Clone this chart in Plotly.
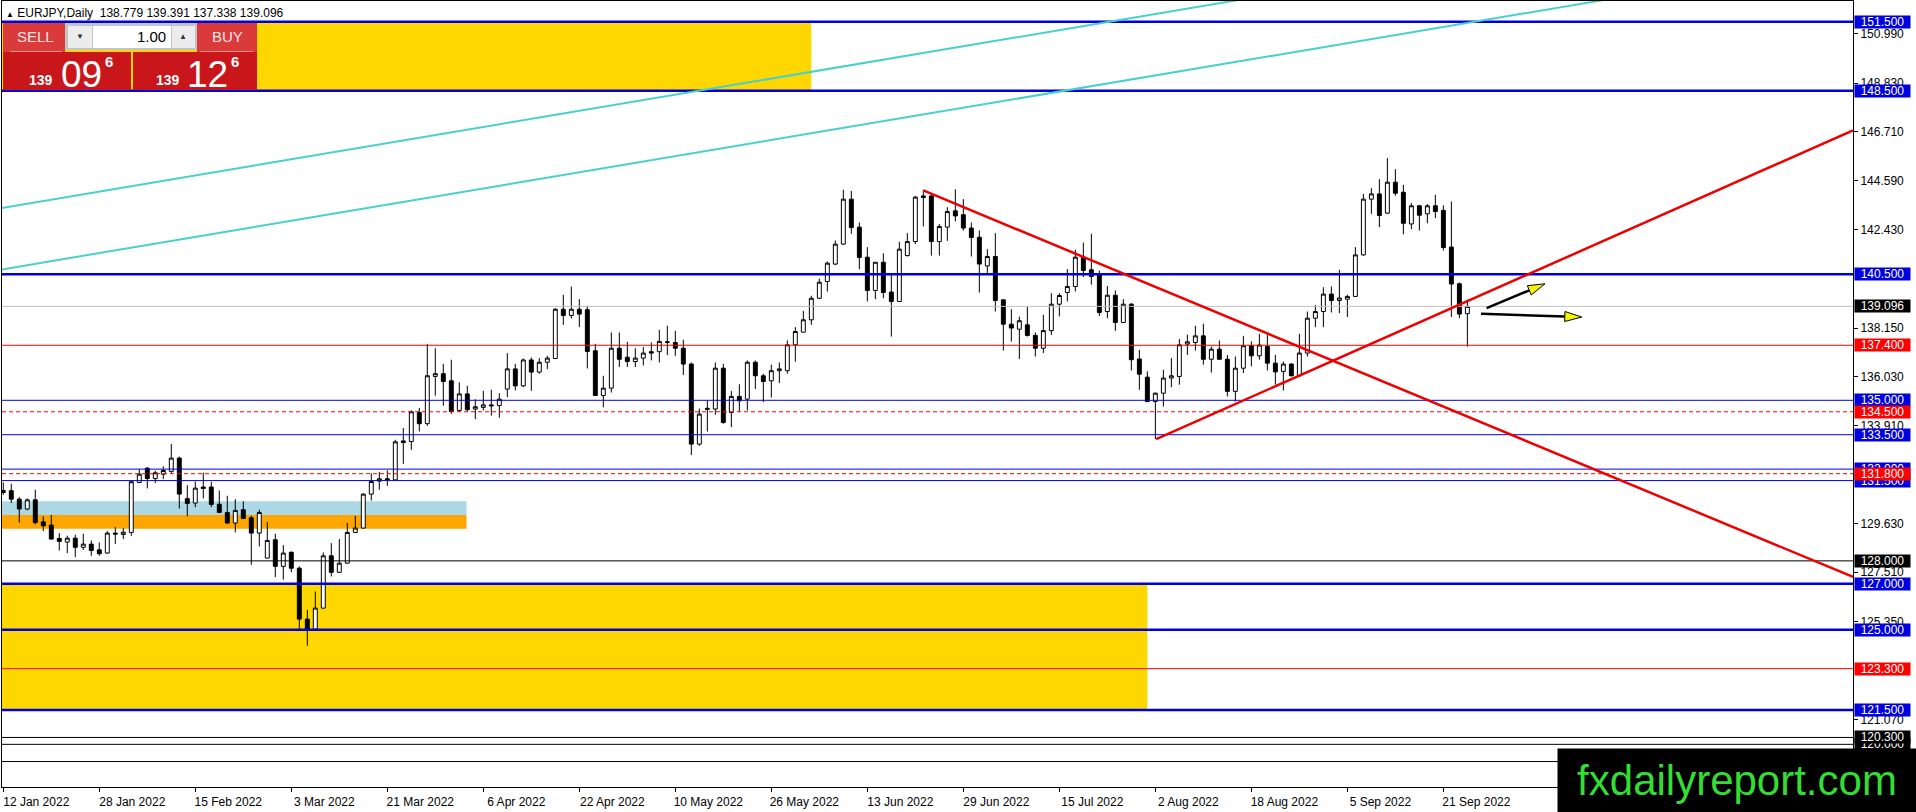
import math
import plotly.graph_objects as go

# EURJPY daily bars, first bar is 12 Jan 2022 (weekdays only)
opens = [130.98, 131.06, 130.69, 130.26, 130.66, 129.70, 129.56, 128.98, 128.82, 128.99,
         128.59, 128.73, 128.48, 128.34, 129.21, 129.15, 129.24, 131.42, 132.04, 131.59,
         131.78, 131.90, 132.48, 130.71, 130.52, 131.22, 131.22, 130.47, 130.11, 129.65,
         130.23, 129.88, 129.21, 128.12, 128.92, 127.76, 128.37, 127.68, 125.46, 125.02,
         125.94, 128.22, 127.50, 127.90, 129.24, 129.43, 130.91, 131.48, 131.58, 131.53,
         133.23, 133.20, 134.47, 133.98, 136.04, 136.16, 135.85, 134.56, 135.28, 134.62,
         134.69, 134.80, 134.77, 135.49, 136.37, 135.63, 136.76, 136.23, 136.66, 136.82,
         138.97, 138.70, 138.97, 138.95, 137.16, 135.21, 135.53, 137.27, 136.88, 136.69,
         136.84, 137.12, 137.12, 137.55, 137.52, 137.27, 136.58, 133.09, 134.60, 134.62,
         136.40, 134.47, 135.17, 135.05, 136.66, 136.07, 135.85, 136.29, 136.29, 137.42,
         137.97, 138.51, 139.45, 140.18, 140.94, 141.81, 143.77, 142.55, 141.24, 139.79,
         141.02, 139.72, 139.31, 141.31, 141.92, 143.91, 143.91, 141.92, 142.55, 143.26,
         143.09, 142.51, 142.11, 140.86, 141.27, 139.38, 138.32, 138.10, 138.29, 137.83,
         137.27, 138.04, 139.19, 139.70, 139.96, 141.24, 140.69, 140.47, 138.87, 139.58,
         138.39, 139.19, 136.80, 136.01, 134.95, 135.31, 135.97, 136.04, 137.45, 137.52,
         137.81, 136.79, 137.23, 136.79, 135.39, 136.40, 137.38, 136.94, 137.35, 136.62,
         136.26, 136.58, 136.07, 137.06, 138.58, 138.87, 139.63, 139.35, 139.41, 139.53,
         141.34, 143.77, 144.00, 143.16, 144.51, 144.07, 142.69, 143.48, 143.13, 143.48,
         143.28, 141.68, 140.08, 138.779]
highs = [131.42, 131.36, 130.78, 130.72, 131.10, 129.94, 130.00, 129.21, 129.10, 129.14,
         129.18, 128.89, 128.80, 129.30, 129.47, 129.43, 131.49, 132.00, 132.09, 131.93,
         132.12, 133.10, 132.55, 131.30, 131.46, 131.85, 131.45, 131.07, 130.84, 130.69,
         130.60, 129.97, 130.23, 129.70, 129.18, 128.69, 128.42, 127.76, 125.87, 126.67,
         128.37, 128.77, 128.95, 129.65, 129.96, 130.95, 131.82, 131.88, 131.94, 133.28,
         133.79, 134.56, 134.67, 137.46, 137.27, 136.59, 136.77, 135.78, 135.63, 135.05,
         135.41, 135.46, 135.31, 137.06, 136.59, 136.82, 136.87, 136.84, 136.94, 139.02,
         139.60, 139.96, 139.41, 139.12, 137.46, 136.07, 137.96, 137.96, 137.55, 137.27,
         137.32, 137.52, 138.07, 138.25, 138.03, 137.64, 136.65, 134.64, 134.98, 136.65,
         136.59, 135.41, 135.70, 136.74, 136.74, 136.16, 136.55, 136.65, 137.61, 138.19,
         138.90, 139.56, 140.30, 141.05, 141.97, 144.18, 144.13, 142.75, 141.68, 141.02,
         141.41, 140.54, 141.91, 142.29, 143.91, 144.18, 143.96, 142.69, 143.42, 144.20,
         143.77, 142.75, 142.40, 141.59, 142.29, 139.41, 138.97, 138.65, 139.09, 137.96,
         138.73, 139.67, 139.67, 140.72, 141.56, 141.88, 142.26, 140.66, 139.99, 139.79,
         139.41, 139.24, 137.20, 136.26, 135.34, 136.33, 136.84, 137.67, 137.86, 138.25,
         138.34, 137.35, 137.61, 136.98, 136.91, 137.81, 137.57, 137.90, 137.86, 136.98,
         136.69, 136.62, 137.90, 138.87, 139.16, 139.93, 139.96, 140.69, 139.60, 141.68,
         144.00, 144.25, 144.64, 145.56, 145.08, 144.39, 143.60, 143.52, 143.56, 143.96,
         143.50, 143.67, 140.14, 139.391]
lows = [130.88, 130.52, 129.67, 130.20, 129.59, 129.30, 128.92, 128.45, 128.34, 128.16,
        128.48, 128.22, 128.22, 128.31, 128.74, 128.95, 129.09, 131.39, 131.16, 131.39,
        131.56, 131.83, 130.28, 129.94, 130.34, 130.72, 130.34, 130.08, 129.62, 129.24,
        129.82, 127.83, 128.63, 128.12, 127.29, 127.18, 127.50, 125.00, 124.30, 125.00,
        125.93, 127.32, 127.47, 127.87, 129.21, 129.41, 130.63, 131.10, 131.27, 131.50,
        132.23, 132.84, 133.64, 133.89, 135.20, 134.76, 134.41, 134.51, 134.50, 134.18,
        134.56, 134.33, 134.24, 135.14, 135.43, 135.57, 135.41, 136.16, 136.36, 136.80,
        138.29, 138.57, 138.19, 136.39, 135.21, 134.69, 135.34, 136.45, 136.45, 136.45,
        136.52, 136.74, 136.65, 136.97, 136.94, 136.10, 132.61, 133.02, 133.64, 134.37,
        133.98, 133.83, 134.50, 134.56, 135.49, 134.92, 135.12, 135.75, 136.16, 136.69,
        137.97, 138.29, 139.42, 139.74, 140.89, 141.78, 142.26, 140.72, 139.31, 139.41,
        139.45, 137.78, 139.31, 141.27, 141.81, 142.58, 141.31, 141.31, 141.95, 142.80,
        142.40, 141.27, 139.70, 140.47, 138.87, 137.17, 137.56, 136.80, 137.78, 136.91,
        137.06, 137.85, 138.66, 139.31, 139.75, 140.37, 140.04, 138.68, 138.58, 138.03,
        138.37, 136.30, 135.46, 134.91, 133.31, 134.73, 135.57, 135.68, 136.98, 137.17,
        136.55, 136.21, 136.77, 135.17, 134.95, 136.19, 136.48, 136.77, 136.30, 135.68,
        135.43, 136.04, 136.04, 136.91, 138.19, 138.19, 138.83, 138.80, 138.63, 139.50,
        141.30, 143.13, 142.55, 143.13, 143.92, 142.24, 142.46, 142.40, 142.72, 142.94,
        141.53, 138.63, 138.58, 137.338]
closes = [131.07, 130.69, 130.26, 130.66, 129.67, 129.53, 128.95, 128.85, 128.99, 128.59,
          128.73, 128.45, 128.31, 129.21, 129.17, 129.25, 131.45, 131.78, 131.59, 131.84,
          131.94, 132.48, 130.91, 130.50, 131.17, 131.16, 130.46, 130.11, 129.65, 130.20,
          129.85, 129.21, 130.11, 128.89, 127.76, 128.34, 127.68, 125.46, 125.02, 125.94,
          128.22, 127.50, 127.90, 129.24, 129.43, 130.91, 131.46, 131.58, 131.53, 133.19,
          133.16, 134.50, 133.98, 136.07, 136.16, 135.82, 134.51, 135.28, 134.59, 134.72,
          134.80, 134.76, 135.05, 136.37, 135.63, 136.76, 136.23, 136.66, 136.84, 138.97,
          138.70, 138.97, 138.76, 137.13, 135.21, 135.53, 137.27, 136.79, 136.69, 136.84,
          137.06, 137.06, 137.57, 137.53, 137.27, 136.58, 133.09, 134.40, 134.65, 136.40,
          134.03, 135.17, 134.98, 136.66, 136.07, 135.82, 136.29, 136.37, 137.42, 138.00,
          138.51, 139.45, 140.15, 140.98, 141.81, 143.77, 142.53, 141.23, 139.79, 141.02,
          139.70, 139.31, 141.59, 141.92, 143.86, 143.84, 141.92, 142.58, 143.23, 143.04,
          142.51, 142.10, 140.94, 141.27, 139.35, 138.32, 138.15, 138.47, 137.83, 137.27,
          138.04, 139.19, 139.57, 139.96, 141.24, 140.66, 140.40, 138.83, 139.58, 138.39,
          139.19, 136.77, 136.14, 134.95, 135.31, 135.97, 136.07, 137.42, 137.55, 137.81,
          136.79, 137.23, 136.79, 135.39, 136.40, 137.38, 136.94, 137.41, 136.62, 136.24,
          136.58, 136.07, 137.06, 138.58, 138.87, 139.63, 139.35, 139.46, 139.53, 141.34,
          143.77, 144.00, 143.06, 144.51, 144.03, 142.72, 143.48, 143.07, 143.48, 143.23,
          141.66, 140.07, 138.76, 139.096]

# one label every 12 bars
date_labels = ["12 Jan 2022", "28 Jan 2022", "15 Feb 2022", "3 Mar 2022", "21 Mar 2022",
               "6 Apr 2022", "22 Apr 2022", "10 May 2022", "26 May 2022", "13 Jun 2022",
               "29 Jun 2022", "15 Jul 2022", "2 Aug 2022", "18 Aug 2022", "5 Sep 2022",
               "21 Sep 2022"]
price_ticks = [150.99, 148.83, 146.71, 144.59, 142.43, 138.15, 136.03, 133.91,
               129.63, 127.51, 125.35, 121.07]

# horizontal levels
thick_blue = [151.5, 148.5, 140.5, 127.0, 125.0, 121.5]
thin_blue = [135.0, 133.5, 132.0, 131.5]
red_solid = [137.4, 123.3]
red_dashed = [134.5, 131.8]
black_levels = [128.0, 120.3, 120.0, 119.25]
last_price = 139.096

# zones: (bar from, bar to, low, high)
yellow_zones = [(-5, 101.0, 148.5, 151.5), (-5, 143.0, 121.5, 127.0)]
blue_zone = (-5, 57.9, 130.0, 130.6)
orange_zone = (-5, 57.9, 129.4, 130.0)

# trend lines: (bar, price, bar, price)
red_trends = [(115.0, 144.15, 231.2, 127.3), (144.1, 133.31, 231.2, 146.77)]
channel_lines = [(-2, 140.60, 200, 152.45), (-2, 143.28, 200, 155.13)]
arrows = [(185.4, 139.02, 192.7, 140.08), (184.7, 138.77, 197.3, 138.63)]

X_RANGE = [-0.16, 231.2]
Y_RANGE = [118.14, 152.41]
W, H = 1916, 812
ML, MR, MT, MB = 2, 63, 1, 25
PW, PH = W - ML - MR, H - MT - MB
PX_X = PW / (X_RANGE[1] - X_RANGE[0])
PX_Y = PH / (Y_RANGE[1] - Y_RANGE[0])

BLUE = "#0000dd"
RED = "#ff0000"


def pxx(px):
    return (px - ML) / PW


def pxy(py):
    return (MT + PH - py) / PH


bars = list(range(len(opens)))

fig = go.Figure()
fig.add_trace(go.Candlestick(
    x=bars, open=opens, high=highs, low=lows, close=closes,
    increasing=dict(line=dict(color="black", width=1), fillcolor="white"),
    decreasing=dict(line=dict(color="black", width=1), fillcolor="black"),
    whiskerwidth=0, hoverinfo="skip",
))

# background zones
for x0, x1, y0, y1 in yellow_zones:
    fig.add_shape(type="rect", x0=x0, x1=x1, y0=y0, y1=y1, xref="x", yref="y",
                  fillcolor="#ffd700", line_width=0, layer="below")
for zone, col in [(blue_zone, "#add8e6"), (orange_zone, "#ffa500")]:
    fig.add_shape(type="rect", x0=zone[0], x1=zone[1], y0=zone[2], y1=zone[3],
                  xref="x", yref="y", fillcolor=col, line_width=0, layer="below")


def hline(p, color, width=1, dash="solid"):
    fig.add_shape(type="line", xref="paper", x0=0, x1=1, yref="y", y0=p, y1=p,
                  line=dict(color=color, width=width, dash=dash))


hline(last_price, "#c0c0c0")
for p in thick_blue:
    hline(p, BLUE, 2.5)
for p in thin_blue:
    hline(p, BLUE, 1)
for p in red_solid:
    hline(p, RED, 1)
for p in red_dashed:
    hline(p, RED, 1, "4px,3px")
for p in black_levels:
    hline(p, "black", 1)

for x0, y0, x1, y1 in channel_lines:
    fig.add_shape(type="line", x0=x0, y0=y0, x1=x1, y1=y1, xref="x", yref="y",
                  line=dict(color="#48d1cc", width=2))
for x0, y0, x1, y1 in red_trends:
    fig.add_shape(type="line", x0=x0, y0=y0, x1=x1, y1=y1, xref="x", yref="y",
                  line=dict(color="#ee0000", width=2.5))

# arrows with yellow heads
for x0, y0, x1, y1 in arrows:
    dx, dy = (x1 - x0) * PX_X, (y1 - y0) * PX_Y
    n = math.hypot(dx, dy)
    ux, uy = dx / n, dy / n
    bx, by = x1 - 17 * ux / PX_X, y1 - 17 * uy / PX_Y
    ax, ay = bx + 5 * (-uy) / PX_X, by + 5 * ux / PX_Y
    cx, cy = bx - 5 * (-uy) / PX_X, by - 5 * ux / PX_Y
    fig.add_shape(type="line", x0=x0, y0=y0, x1=bx, y1=by, xref="x", yref="y",
                  line=dict(color="black", width=2.5))
    fig.add_shape(type="path", xref="x", yref="y",
                  path=f"M {x1},{y1} L {ax},{ay} L {cx},{cy} Z",
                  fillcolor="#f5f500", line=dict(color="black", width=1))

# right side price labels
labels = [(151.5, BLUE), (148.5, BLUE), (140.5, BLUE), (last_price, "black"),
          (137.4, RED), (135.0, BLUE), (134.5, RED), (133.5, BLUE), (132.0, BLUE),
          (131.5, BLUE), (131.8, RED), (128.0, "black"), (127.0, BLUE), (125.0, BLUE),
          (123.3, RED), (121.5, BLUE), (120.0, "black"), (120.3, "black")]
for p, col in labels:
    fig.add_annotation(x=1, xref="paper", xanchor="left", xshift=1, y=p, yref="y",
                       yanchor="middle", text=f"{p:.3f}", showarrow=False, bgcolor=col,
                       borderpad=0, width=55, height=12,
                       font=dict(family="Liberation Sans", size=12, color="white"))

# one-click trading panel
panel = [
    (3, 65, 23, 52, "#da3a3a"), (197, 257, 23, 52, "#da3a3a"),
    (65, 197, 23, 50, "#c4c4c4"), (68, 92, 26, 48, "#ececec"),
    (93, 171, 26, 48, "white"), (172, 195, 26, 48, "#ececec"),
    (3, 131, 52, 90, "#c8161b"), (133, 257, 52, 90, "#c8161b"),
]
for x0, x1, y0, y1, col in panel:
    fig.add_shape(type="rect", xref="paper", yref="paper", x0=pxx(x0), x1=pxx(x1),
                  y0=pxy(y1), y1=pxy(y0), fillcolor=col, line_width=0)
for x0, x1 in [(10, 62), (200, 253)]:
    fig.add_shape(type="line", xref="paper", yref="paper", x0=pxx(x0), x1=pxx(x1),
                  y0=pxy(51.5), y1=pxy(51.5), line=dict(color="#f09090", width=1))


def txt(px, py, s, size, color="white", anchor="center"):
    fig.add_annotation(xref="paper", yref="paper", x=pxx(px), y=pxy(py), text=s,
                       xanchor=anchor, yanchor="middle", showarrow=False,
                       font=dict(family="Liberation Sans", size=size, color=color))


txt(35, 37, "SELL", 15, "#ffe4e4")
txt(227, 37, "BUY", 15, "#ffe4e4")
txt(168, 37, "1.00", 15, "black", "right")
txt(80, 37, "▼", 8, "#333333")
txt(183, 37, "▲", 8, "#333333")
txt(41, 80, "<b>139</b>", 14)
txt(81, 74, "09", 37)
txt(109, 61, "<b>6</b>", 15)
txt(168, 80, "<b>139</b>", 14)
txt(207, 74, "12", 37)
txt(235, 61, "<b>6</b>", 15)

# chart header
txt(4, 13, "<span style='font-size:8px'>▲</span> EURJPY,Daily\u00a0\u00a0138.779 139.391 137.338 139.096",
    12, "black", "left")

# watermark box
fig.add_annotation(xref="paper", yref="paper", x=pxx(1737), y=pxy(780.5),
                   xanchor="center", yanchor="middle",
                   text="fxdailyreport.com", showarrow=False, bgcolor="black",
                   width=358, height=63, borderpad=0,
                   font=dict(family="Liberation Sans", size=42, color="#33dd33"))

fig.update_layout(
    width=W, height=H, margin=dict(l=ML, r=MR, t=MT, b=MB),
    paper_bgcolor="white", plot_bgcolor="white", showlegend=False,
    font=dict(family="Liberation Sans, Arial, sans-serif", size=12, color="black"),
    xaxis=dict(range=X_RANGE, rangeslider=dict(visible=False), showgrid=False,
               zeroline=False, tickvals=[i * 12 for i in range(len(date_labels))],
               ticktext=date_labels, ticks="outside", ticklen=4, tickcolor="black",
               ticklabelshift=33, showline=True, linecolor="black", linewidth=1,
               mirror=True),
    yaxis=dict(range=Y_RANGE, side="right", showgrid=False, zeroline=False,
               tickvals=price_ticks, tickformat=".3f", ticks="outside", ticklen=4,
               tickcolor="black", showline=True, linecolor="black", linewidth=1,
               mirror=True),
)

fig.write_html("out.html", config={"displayModeBar": False},
               post_script="document.body.style.margin='0px';")
